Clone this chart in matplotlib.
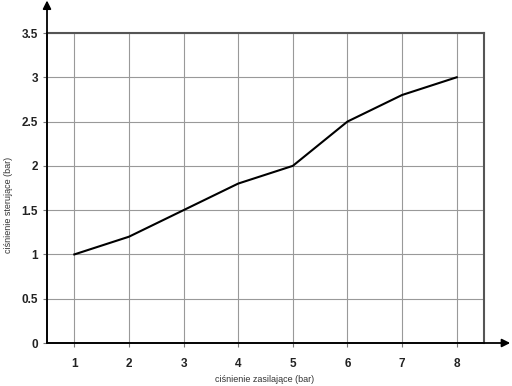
import matplotlib.pyplot as plt

supply = [1, 2, 3, 4, 5, 6, 7, 8]
control = [1.0, 1.2, 1.5, 1.8, 2.0, 2.5, 2.8, 3.0]
xticks = [1, 2, 3, 4, 5, 6, 7, 8]
yticks = [0, 0.5, 1, 1.5, 2, 2.5, 3, 3.5]
ylabels = ["0", "0.5", "1", "1.5", "2", "2.5", "3", "3.5"]

plt.rcParams['font.family'] = ['Liberation Sans', 'DejaVu Sans']

fig = plt.figure(figsize=(5.12, 3.86), dpi=100)
ax = fig.add_axes([47 / 512, 43 / 386, 437 / 512, 310 / 386])

ax.plot(supply, control, color='black', lw=1.5)
ax.set_xlim(0.5, 8.5)
ax.set_ylim(0, 3.5)
ax.set_xticks(xticks)
ax.set_yticks(yticks)
ax.set_yticklabels(ylabels)
ax.grid(True, color='#999999', lw=0.8)
ax.tick_params(length=3, color='#777777', labelsize=8.5)
for t in ax.get_xticklabels() + ax.get_yticklabels():
    t.set_fontweight('bold')
    t.set_color('#222222')
ax.tick_params(axis='x', pad=8)

for side in ['top', 'right']:
    ax.spines[side].set_color('#555555')
    ax.spines[side].set_linewidth(1.5)
for side in ['left', 'bottom']:
    ax.spines[side].set_color('#444444')
    ax.spines[side].set_linewidth(1.3)

# axis arrows
ax.annotate('', xy=(0, 1.105), xytext=(0, 0), xycoords='axes fraction',
            arrowprops=dict(arrowstyle='-|>', color='black', lw=1.3,
                            mutation_scale=12, shrinkA=0, shrinkB=0))
ax.annotate('', xy=(1.06, 0), xytext=(0, 0), xycoords='axes fraction',
            arrowprops=dict(arrowstyle='-|>', color='black', lw=1.3,
                            mutation_scale=12, shrinkA=0, shrinkB=0))

fig.text(265 / 512, 1 - 379 / 386, 'ciśnienie zasilające (bar)', ha='center',
         va='center', fontsize=6.5, color='#333333')
fig.text(9 / 512, 1 - 205 / 386, 'ciśnienie sterujące (bar)', ha='center',
         va='center', rotation=90, fontsize=6.5, color='#333333')

fig.savefig('out.png', dpi=100)
